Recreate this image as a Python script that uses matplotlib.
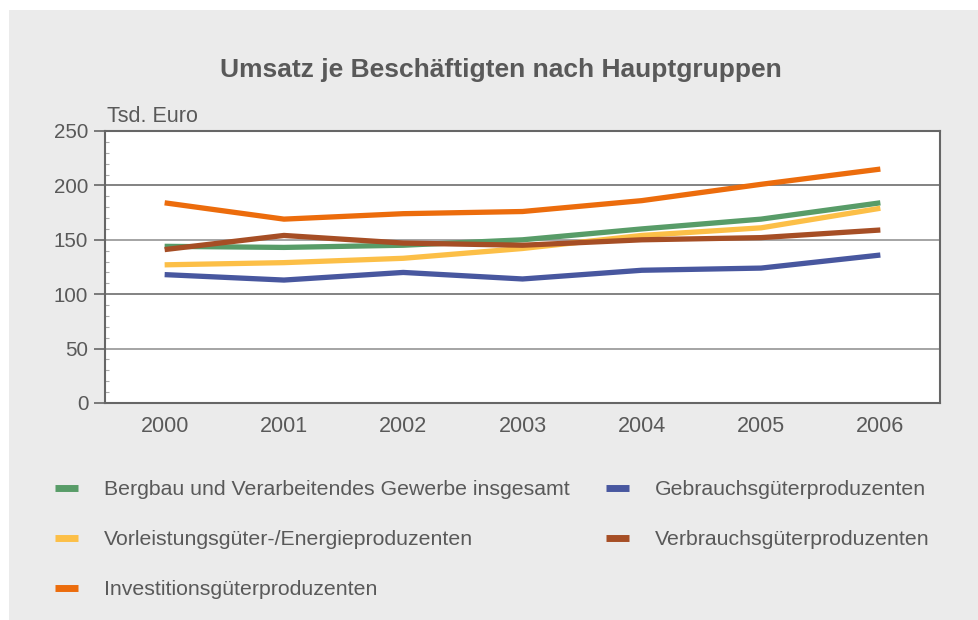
import matplotlib
matplotlib.use("Agg")
import matplotlib.pyplot as plt
from matplotlib.patches import Rectangle
from matplotlib.ticker import MultipleLocator

plt.rcParams['font.family'] = ['Liberation Sans', 'DejaVu Sans']

# Data (Tsd. Euro je Beschäftigten)
years = ["2000", "2001", "2002", "2003", "2004", "2005", "2006"]
bergbau = [144, 143, 145, 150, 160, 169, 184]
vorleistung = [127, 129, 133, 142, 154, 161, 179]
investition = [184, 169, 174, 176, 186, 201, 215]
gebrauch = [118, 113, 120, 114, 122, 124, 136]
verbrauch = [141, 154, 147, 145, 150, 152, 159]

labels = ["Bergbau und Verarbeitendes Gewerbe insgesamt",
          "Vorleistungsgüter-/Energieproduzenten",
          "Investitionsgüterproduzenten",
          "Gebrauchsgüterproduzenten",
          "Verbrauchsgüterproduzenten"]
series = [bergbau, vorleistung, investition, gebrauch, verbrauch]
colors = ["#589c68", "#fcbf47", "#ec6c0c", "#48579f", "#a64e25"]

TXT = "#595959"
W, H = 979, 620

fig = plt.figure(figsize=(W / 100, H / 100), dpi=100, facecolor="white")
# grey panel behind everything (white margin only on left/top)
fig.add_artist(Rectangle((9 / W, 0), 1, 1 - 10 / H, transform=fig.transFigure,
                         facecolor="#ebebeb", edgecolor="none", zorder=-10))

ax = fig.add_axes([105 / W, (H - 403) / H, 835 / W, 272 / H])
ax.set_zorder(1)
ax.set_facecolor("white")

x = list(range(len(years)))
for vals, lab, col in zip(series, labels, colors):
    ax.plot(x, vals, color=col, lw=3.8, label=lab, solid_capstyle="butt", zorder=3)

ax.set_xlim(-0.5, len(years) - 0.5)
ax.set_ylim(0, 250)
ax.set_xticks(x)
ax.set_xticklabels(years)
ax.yaxis.set_major_locator(MultipleLocator(50))
ax.yaxis.set_minor_locator(MultipleLocator(10))

# gridlines: 200/100 darker, 150/50 lighter
for v in (50, 100, 150, 200):
    ax.axhline(v, color="#606060" if v % 100 == 0 else "#8c8c8c", lw=1.1, zorder=1)

for s in ax.spines.values():
    s.set_color("#666666")
    s.set_linewidth(1.5)

ax.tick_params(axis="y", which="major", length=8, width=1.2, color="#666666",
               labelsize=14.8, labelcolor=TXT, pad=4)
ax.tick_params(axis="y", which="minor", direction="in", length=3, width=0.8, color="#aaaaaa")
ax.tick_params(axis="x", which="major", length=0, labelsize=15.5, labelcolor=TXT, pad=9)

fig.text(501 / W, 1 - 70 / H, "Umsatz je Beschäftigten nach Hauptgruppen",
         ha="center", va="center", fontsize=19, fontweight="bold", color=TXT)
fig.text(107 / W, 1 - 117 / H, "Tsd. Euro", ha="left", va="center",
         fontsize=15.5, color=TXT)

leg = ax.legend(loc="upper left", bbox_to_anchor=(55 / W, 1 - 480 / H),
                bbox_transform=fig.transFigure, ncol=2, frameon=False,
                fontsize=15.3, handlelength=1.08, handletextpad=1.22,
                columnspacing=1.7, labelspacing=1.46, borderpad=0, borderaxespad=0)
for t in leg.get_texts():
    t.set_color(TXT)
for h in leg.get_lines():
    h.set_linewidth(5)

fig.savefig("out.png", dpi=100, facecolor=fig.get_facecolor())
